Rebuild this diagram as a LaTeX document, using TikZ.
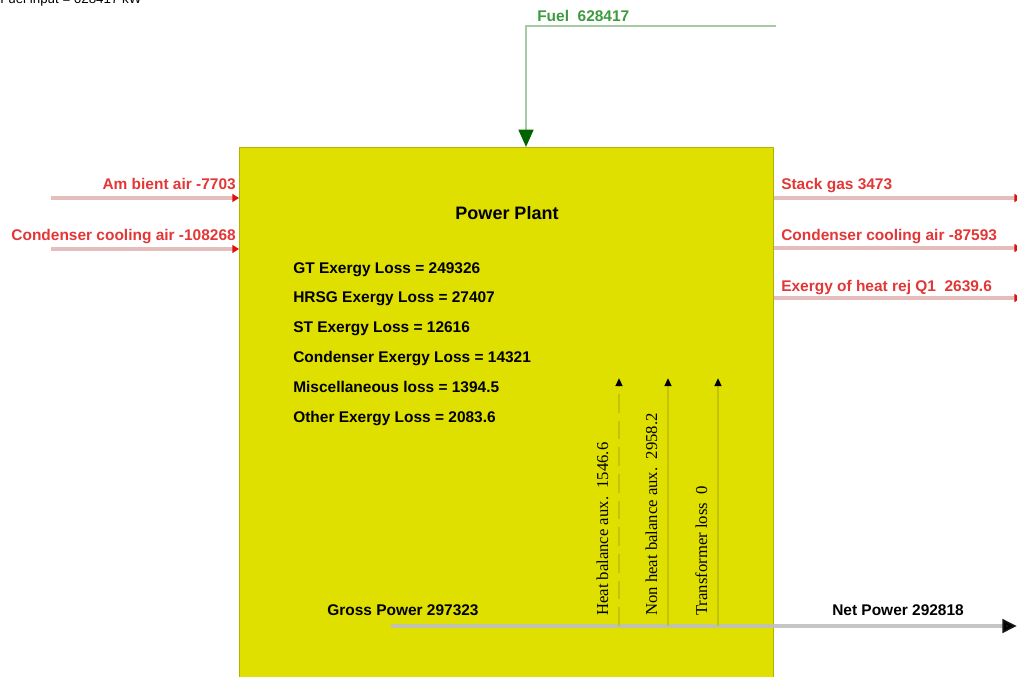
\documentclass[tikz,border=0pt]{standalone}
\usepackage{fontspec}
\setmainfont{Liberation Sans}
\newfontfamily\timesl{Liberation Serif}
\usetikzlibrary{arrows.meta}
\definecolor{plantyellow}{HTML}{E0E000}
\definecolor{plantedge}{HTML}{B4B400}
\definecolor{lblred}{HTML}{E33636}
\definecolor{linered}{HTML}{E4BDBD}
\definecolor{tipred}{HTML}{E01010}
\definecolor{lblgreen}{HTML}{3E9A3E}
\definecolor{linegreen}{HTML}{A6C9A6}
\definecolor{tipgreen}{HTML}{006400}
\definecolor{auxline}{HTML}{C4C400}
\begin{document}
\begin{tikzpicture}[x=0.75pt,y=-0.75pt,
  lbl/.style={inner sep=0pt,font=\fontsize{11.6}{14}\selectfont\bfseries},
  redlbl/.style={lbl,text=lblred},
  losslbl/.style={lbl,anchor=mid west},
  auxlbl/.style={inner sep=0pt,rotate=90,anchor=base west,font=\timesl\fontsize{12.5}{14}\selectfont},
  redflow/.style={draw=linered,line width=2.6pt,-{Triangle[length=5pt,width=6pt,fill=tipred,color=tipred]}},
  auxflow/.style={draw=auxline,line width=1.6pt,-{Triangle[length=6pt,width=5pt,color=black]}},
]
\useasboundingbox (0,0) rectangle (1017,677);
\clip (0,0) rectangle (1017,677);

% top-left clipped caption
\node[lbl,font=\fontsize{10}{12}\selectfont,anchor=base west] (caption) at (0,4) {Fuel input = 628417 kW};

% plant box
\node[draw=plantedge,fill=plantyellow,line width=0.8pt,minimum width=400.5pt,minimum height=412pt,anchor=north west,inner sep=0pt] (plant) at (239,147) {};
\node[lbl,font=\fontsize{13.5}{16}\selectfont\bfseries] (title) at (507,213) {Power Plant};

% losses
\node[losslbl] (gt)   at (293,270) {GT Exergy Loss = 249326};
\node[losslbl] (hrsg) at (293,299) {HRSG Exergy Loss = 27407};
\node[losslbl] (st)   at (293,329) {ST Exergy Loss = 12616};
\node[losslbl] (cond) at (293,359) {Condenser Exergy Loss = 14321};
\node[losslbl] (misc) at (293,389) {Miscellaneous loss = 1394.5};
\node[losslbl] (oth)  at (293,419) {Other Exergy Loss = 2083.6};

% fuel
\node[lbl,text=lblgreen,anchor=mid west] (fuel) at (537,18) {Fuel\ \ 628417};
\coordinate (fuelstart) at (776,26);
\coordinate (fuelcorner) at (526,26);
\draw[draw=linegreen,line width=2pt,-{Triangle[length=13pt,width=11pt,color=tipgreen]}]
  (fuelstart) -- (fuelcorner) -- (fuelcorner |- plant.north);

% left inputs
\node[redlbl,anchor=mid east] (amb) at (236,186) {Am bient air -7703};
\node[redlbl,anchor=mid east] (ccin) at (236,237) {Condenser cooling air -108268};
\coordinate (ambs) at (51,198);
\coordinate (ccins) at (51,249);
\draw[redflow] (ambs) -- (ambs -| plant.west);
\draw[redflow] (ccins) -- (ccins -| plant.west);

% right outputs
\node[redlbl,anchor=mid west] (stack) at (781,186) {Stack gas 3473};
\node[redlbl,anchor=mid west] (ccout) at (781,237) {Condenser cooling air -87593};
\node[redlbl,anchor=mid west] (heat) at (781,288) {Exergy of heat rej Q1\ \ 2639.6};
\coordinate (stacke) at (1021,198);
\coordinate (ccoute) at (1021,248);
\coordinate (heate) at (1021,298);
\draw[redflow] (stacke -| plant.east) -- (stacke);
\draw[redflow] (ccoute -| plant.east) -- (ccoute);
\draw[redflow] (heate -| plant.east) -- (heate);

% power line
\coordinate (gs) at (391,626);
\coordinate (ne) at (1017,626);
\draw[draw=gray!50,opacity=0.9,line width=2.6pt,-{Triangle[length=11pt,width=10pt,color=black]}] (gs) -- (ne);
\node[lbl,anchor=mid west] (gross) at (327,612) {Gross Power 297323};
\node[lbl,anchor=mid west] (net) at (832,612) {Net Power 292818};

% aux arrows
\coordinate (a1b) at (619,626); \coordinate (a1t) at (619,378);
\coordinate (a2b) at (668,626); \coordinate (a2t) at (668,378);
\coordinate (a3b) at (718,626); \coordinate (a3t) at (718,378);
\draw[auxflow,dash pattern=on 14pt off 6pt] (a1b) -- (a1t);
\draw[auxflow] (a2b) -- (a2t);
\draw[auxflow] (a3b) -- (a3t);
\node[auxlbl] (aux1) at (608,616) {Heat balance aux.\ \ 1546.6};
\node[auxlbl] (aux2) at (657,616) {Non heat balance aux.\ \ 2958.2};
\node[auxlbl] (aux3) at (707,616) {Transformer loss\ \ 0};
\end{tikzpicture}
\end{document}
